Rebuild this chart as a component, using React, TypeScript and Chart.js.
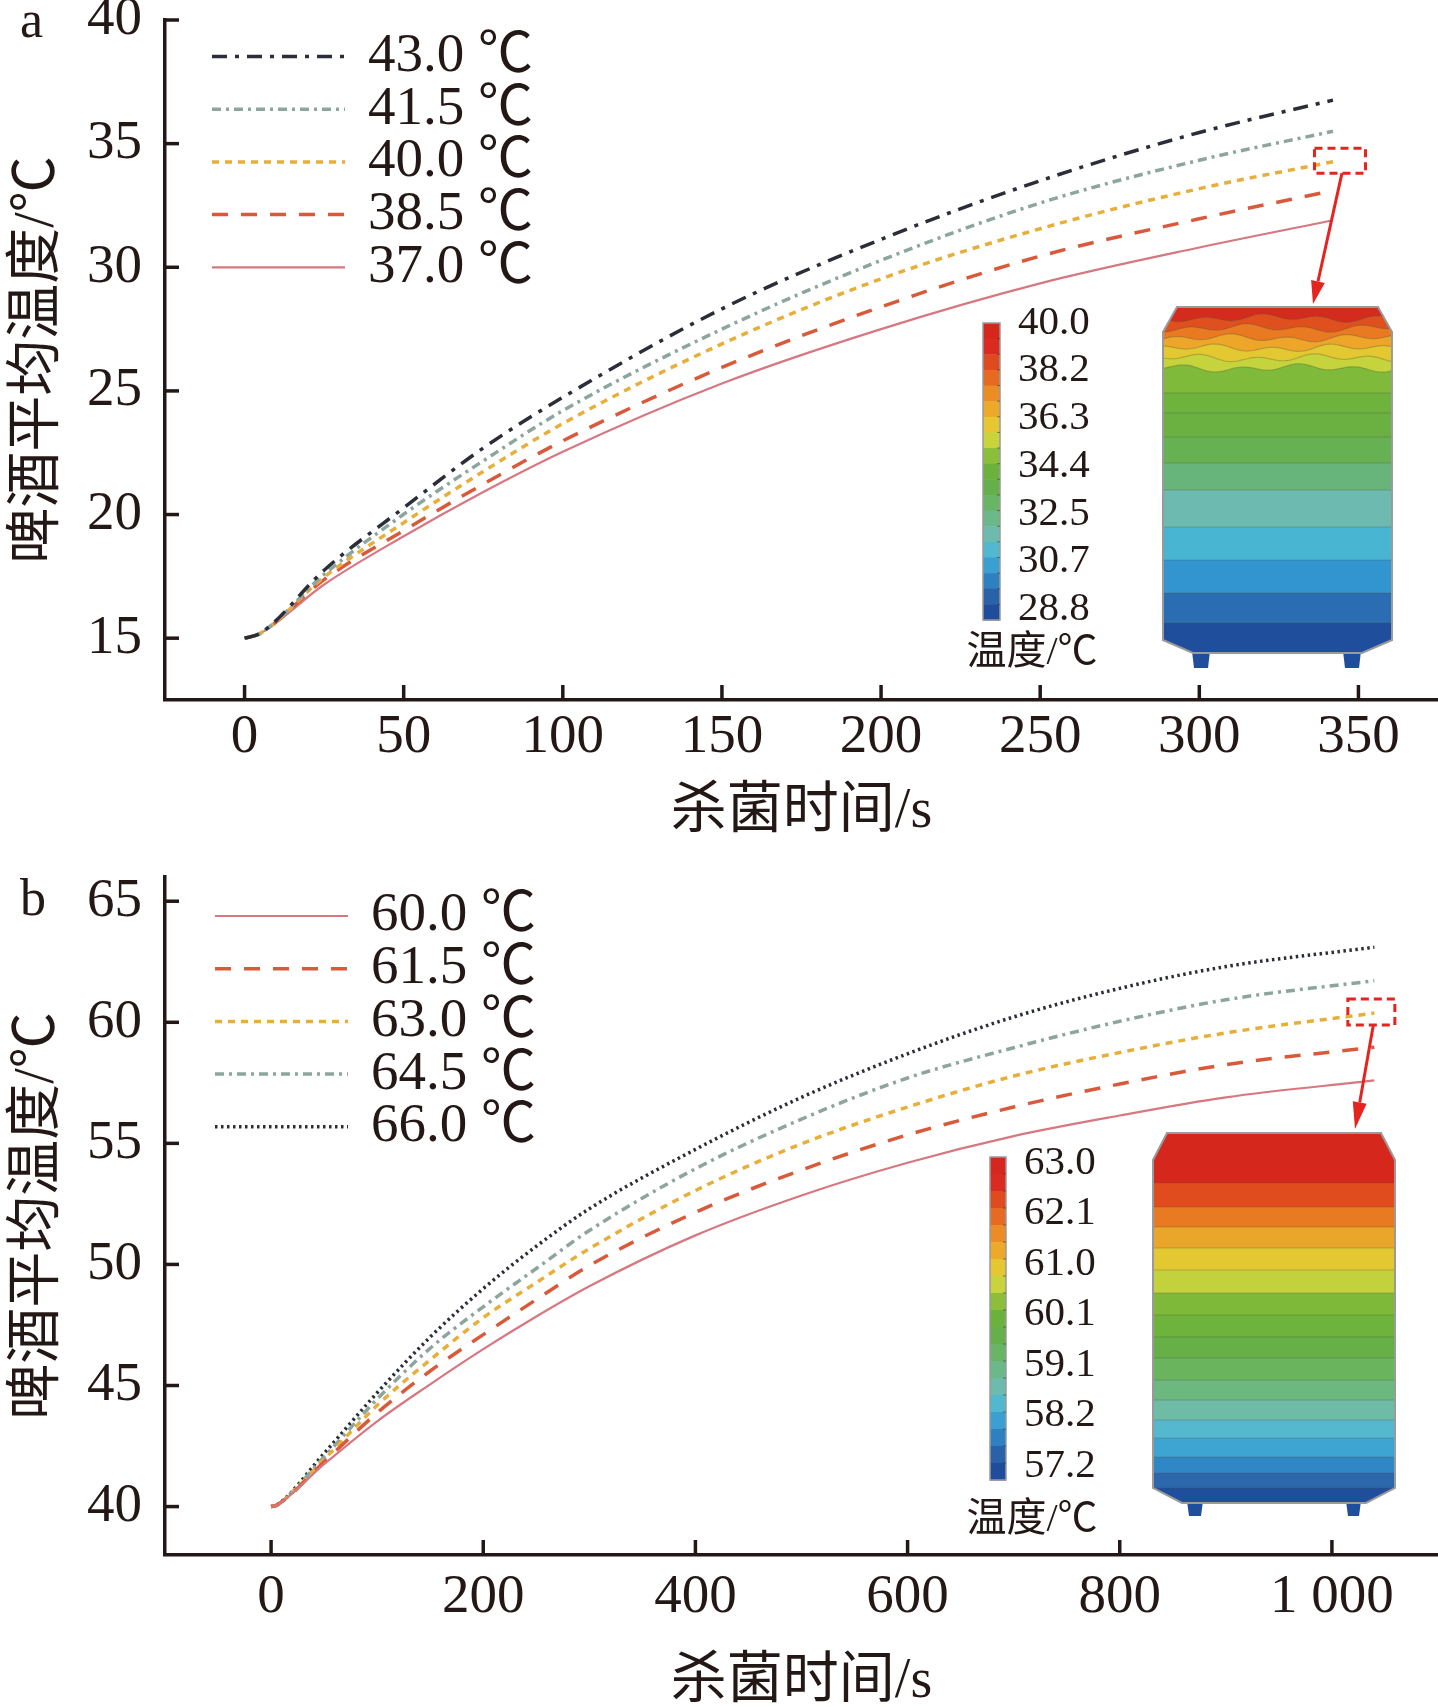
import { useEffect, useRef } from 'react';
import { Chart, registerables } from 'chart.js';

Chart.register(...registerables);

const SERIF = '"Liberation Serif", "Noto Sans CJK SC", serif';
const INK = '#231815';

// panel a: sterilisation at 37.0–43.0 ℃
const timeA = [0, 5, 25, 50, 75, 100, 150, 200, 250, 300, 342];
const a430 = [15, 15.2, 17.75, 20.27, 22.69, 24.74, 28.32, 31.13, 33.5, 35.45, 36.76];
const a415 = [15, 15.2, 17.58, 20.01, 22.17, 24.2, 27.5, 30.28, 32.6, 34.33, 35.5];
const a400 = [15, 15.2, 17.47, 19.67, 21.74, 23.68, 26.9, 29.53, 31.56, 33.18, 34.27];
const a385 = [15, 15.2, 17.37, 19.35, 21.23, 22.98, 25.95, 28.4, 30.45, 31.96, 33.1];
const a370 = [15, 15.2, 17.17, 19.12, 20.91, 22.54, 25.3, 27.5, 29.35, 30.8, 31.9];
const legendA = ['43.0 ℃', '41.5 ℃', '40.0 ℃', '38.5 ℃', '37.0 ℃'];
const xTicksA = [0, 50, 100, 150, 200, 250, 300, 350];
const xTickTextA = ['0', '50', '100', '150', '200', '250', '300', '350'];
const yTicksA = [15, 20, 25, 30, 35, 40];
const barTicksA = ['40.0', '38.2', '36.3', '34.4', '32.5', '30.7', '28.8'];

// panel b: sterilisation at 60.0–66.0 ℃
const timeB = [0, 5, 50, 100, 150, 200, 250, 300, 400, 500, 600, 700, 800, 900, 1040];
const b600 = [40, 40.05, 41.75, 43.52, 45.05, 46.5, 47.85, 49.1, 51.2, 52.85, 54.2, 55.3, 56.15, 56.9, 57.6];
const b615 = [40, 40.05, 41.85, 43.87, 45.6, 47.1, 48.55, 49.95, 52.15, 53.9, 55.35, 56.5, 57.45, 58.25, 58.97];
const b630 = [40, 40.05, 41.95, 44.18, 46.06, 47.8, 49.25, 50.65, 53.05, 54.98, 56.5, 57.78, 58.75, 59.56, 60.38];
const b645 = [40, 40.05, 42.05, 44.44, 46.54, 48.25, 49.83, 51.4, 53.95, 56.0, 57.7, 58.95, 60.04, 60.93, 61.72];
const b660 = [40, 40.05, 42.2, 44.7, 47.0, 49.0, 50.75, 52.3, 54.75, 56.9, 58.7, 60.22, 61.4, 62.3, 63.1];
const legendB = ['60.0 ℃', '61.5 ℃', '63.0 ℃', '64.5 ℃', '66.0 ℃'];
const xTicksB = [0, 200, 400, 600, 800, 1000];
const xTickTextB = ['0', '200', '400', '600', '800', '1 000'];
const yTicksB = [40, 45, 50, 55, 60, 65];
const barTicksB = ['63.0', '62.1', '61.0', '60.1', '59.1', '58.2', '57.2'];

type LineStyle = { color: string; dash: number[]; width: number };

const dashDot: LineStyle = { color: '#2b2e38', dash: [15, 8, 4, 8], width: 3.5 };
const grayDashDot: LineStyle = { color: '#8ca59f', dash: [9, 5, 3, 5], width: 3.5 };
const shortDash: LineStyle = { color: '#e8ae3a', dash: [7, 6], width: 3.5 };
const longDash: LineStyle = { color: '#d85a3b', dash: [16, 13], width: 3.5 };
const thinLine: LineStyle = { color: '#d77780', dash: [], width: 2.2 };
const dotted: LineStyle = { color: '#2b2e38', dash: [2.5, 3.5], width: 3.5 };

// contour colours used by the colour bars
const barColors = ['#d7261e', '#d92b1f', '#e04a1f', '#e66a21', '#eb8c25', '#eda92a', '#e6c631', '#c9d33b', '#8cbf39',
  '#6ab23c', '#65b04a', '#68b565', '#6bb889', '#6cbbad', '#52b8cf', '#3a9fd1', '#2f80c0', '#2a62a9', '#1f4c9b'];

interface Tank {
  left: number; right: number; top: number; cw: number; ch: number;
  bodyBottom: number; bottom: number; bw: number;
  feet: number[][]; feetBottom: number;
  bands: number[]; colors: string[]; waves: number;
}

interface PanelCfg {
  letter: string; letterY: number;
  height: number; top: number; bottom: number; left: number;
  xMin: number; xMax: number; yMin: number; yMax: number;
  xTicks: number[]; xTickText: string[]; yTicks: number[];
  xPad: number; titlePad: number;
  time: number[];
  series: { label: string; values: number[]; style: LineStyle }[];
  legendX: number; legendY: number;
  bar: { x: number; w: number; top: number; bottom: number; labels: string[]; labelY: number; step: number; unitY: number };
  tank: Tank;
  box: { series: number; dx: number; dy: number; w: number; h: number; tipX: number; tipY: number; head: number };
}

const panelA: PanelCfg = {
  letter: 'a', letterY: 37,
  height: 853, top: 20, bottom: 700, left: 165,
  xMin: -25, xMax: 375, yMin: 12.5, yMax: 40,
  xTicks: xTicksA, xTickText: xTickTextA, yTicks: yTicksA,
  xPad: 5, titlePad: 13,
  time: timeA,
  series: [
    { label: legendA[0], values: a430, style: dashDot },
    { label: legendA[1], values: a415, style: grayDashDot },
    { label: legendA[2], values: a400, style: shortDash },
    { label: legendA[3], values: a385, style: longDash },
    { label: legendA[4], values: a370, style: thinLine },
  ],
  legendX: 212, legendY: 56.5,
  bar: { x: 983, w: 17, top: 323, bottom: 620, labels: barTicksA, labelY: 323, step: 47.7, unitY: 653 },
  tank: {
    left: 1163, right: 1392, top: 307, cw: 14, ch: 25, bodyBottom: 640, bottom: 653, bw: 30,
    feet: [[1193, 1209], [1344, 1360]], feetBottom: 668,
    bands: [318, 328, 338, 348, 358, 368, 393, 413, 437, 463, 490, 527, 560, 593, 623],
    colors: ['#d52b1e', '#e0501f', '#e97a22', '#eda52a', '#e4c832', '#c5d33c', '#7fba3a', '#6db33c', '#6ab142',
      '#66b152', '#68b57c', '#6dbbb0', '#48b5d3', '#3295cf', '#2b6db2', '#1f4e9c'],
    waves: 6,
  },
  box: { series: 2, dx: 7, dy: -1, w: 51, h: 25, tipX: 1313, tipY: 304, head: 23 },
};

const panelB: PanelCfg = {
  letter: 'b', letterY: 62,
  height: 854, top: 24, bottom: 702, left: 165,
  xMin: -100, xMax: 1100, yMin: 38, yMax: 66,
  xTicks: xTicksB, xTickText: xTickTextB, yTicks: yTicksB,
  xPad: 10, titlePad: -3,
  time: timeB,
  series: [
    { label: legendB[0], values: b600, style: thinLine },
    { label: legendB[1], values: b615, style: longDash },
    { label: legendB[2], values: b630, style: shortDash },
    { label: legendB[3], values: b645, style: grayDashDot },
    { label: legendB[4], values: b660, style: dotted },
  ],
  legendX: 215, legendY: 63,
  bar: { x: 990, w: 16, top: 304, bottom: 627, labels: barTicksB, labelY: 310, step: 50.5, unitY: 667 },
  tank: {
    left: 1153, right: 1395, top: 280, cw: 14, ch: 27, bodyBottom: 635, bottom: 650, bw: 29,
    feet: [[1188, 1202], [1347, 1360]], feetBottom: 663,
    bands: [330, 354, 374, 395, 417, 440, 462, 484, 505, 527, 547, 567, 585, 604, 620, 635],
    colors: ['#d6271d', '#e14c1f', '#e87a21', '#eaa62a', '#e3c832', '#c3d13d', '#7fb93a', '#6db33c', '#67b048',
      '#6ab45e', '#6cb87e', '#6ebba6', '#55b8cf', '#3ea4d2', '#3087c6', '#2c66ad', '#1f4e9c'],
    waves: 0,
  },
  box: { series: 2, dx: -3, dy: -1, w: 47, h: 26, tipX: 1355, tipY: 276, head: 27 },
};

const waveY = (base: number, x: number, k: number, left: number) =>
  base + 2.5 * Math.sin((x - left) / 9 + k * 1.7) + 1.8 * Math.sin((x - left) / 23 + k);

function drawTank(ctx: CanvasRenderingContext2D, t: Tank) {
  ctx.save();
  // feet
  ctx.fillStyle = '#1f4e9c';
  t.feet.forEach(([x0, x1]) => {
    ctx.beginPath();
    ctx.moveTo(x0 - 1, t.bottom - 2);
    ctx.lineTo(x1 + 1, t.bottom - 2);
    ctx.lineTo(x1 - 1, t.feetBottom);
    ctx.lineTo(x0 + 1, t.feetBottom);
    ctx.closePath();
    ctx.fill();
  });
  const outline = () => {
    ctx.beginPath();
    ctx.moveTo(t.left + t.cw, t.top);
    ctx.lineTo(t.right - t.cw, t.top);
    ctx.lineTo(t.right, t.top + t.ch);
    ctx.lineTo(t.right, t.bodyBottom);
    ctx.lineTo(t.right - t.bw, t.bottom);
    ctx.lineTo(t.left + t.bw, t.bottom);
    ctx.lineTo(t.left, t.bodyBottom);
    ctx.lineTo(t.left, t.top + t.ch);
    ctx.closePath();
  };
  outline();
  ctx.save();
  ctx.clip();
  const n = t.colors.length;
  const edge = (i: number, x: number) => (i < t.waves ? waveY(t.bands[i], x, i, t.left) : t.bands[i]);
  for (let i = n - 1; i >= 0; i--) {
    ctx.fillStyle = t.colors[i];
    if (i === n - 1) {
      ctx.fillRect(t.left - 2, t.top - 2, t.right - t.left + 4, t.bottom - t.top + 4);
      continue;
    }
    ctx.beginPath();
    ctx.moveTo(t.left - 2, t.top - 2);
    ctx.lineTo(t.right + 2, t.top - 2);
    for (let x = t.right + 2; x >= t.left - 2; x -= 2) ctx.lineTo(x, edge(i, x));
    ctx.closePath();
    ctx.fill();
  }
  ctx.strokeStyle = 'rgba(80, 80, 60, 0.3)';
  ctx.lineWidth = 1.2;
  for (let i = 0; i < t.bands.length; i++) {
    ctx.beginPath();
    for (let x = t.left; x <= t.right; x += 2) {
      if (x === t.left) ctx.moveTo(x, edge(i, x));
      else ctx.lineTo(x, edge(i, x));
    }
    ctx.stroke();
  }
  ctx.restore();
  outline();
  ctx.strokeStyle = '#9a9a9a';
  ctx.lineWidth = 2;
  ctx.stroke();
  ctx.restore();
}

function makeDecor(cfg: PanelCfg) {
  return {
    id: 'decor',
    afterDraw(chart: Chart) {
      const { ctx, chartArea } = chart;
      const xs = chart.scales.x;
      const ys = chart.scales.y;
      ctx.save();

      // tick marks point inwards
      ctx.strokeStyle = INK;
      ctx.lineWidth = 3.5;
      ctx.setLineDash([]);
      cfg.xTicks.forEach((v) => {
        const px = xs.getPixelForValue(v);
        ctx.beginPath();
        ctx.moveTo(px, chartArea.bottom);
        ctx.lineTo(px, chartArea.bottom - 15);
        ctx.stroke();
      });
      cfg.yTicks.forEach((v) => {
        const py = ys.getPixelForValue(v);
        ctx.beginPath();
        ctx.moveTo(chartArea.left, py);
        ctx.lineTo(chartArea.left + 14, py);
        ctx.stroke();
      });

      // panel letter
      ctx.fillStyle = INK;
      ctx.font = `52px ${SERIF}`;
      ctx.textAlign = 'left';
      ctx.textBaseline = 'alphabetic';
      ctx.fillText(cfg.letter, 20, cfg.letterY);

      // legend
      chart.data.datasets.forEach((ds: any, i: number) => {
        const y = cfg.legendY + i * 52.7;
        ctx.save();
        ctx.strokeStyle = ds.borderColor;
        ctx.lineWidth = ds.borderWidth;
        ctx.setLineDash(ds.borderDash || []);
        ctx.beginPath();
        ctx.moveTo(cfg.legendX, y);
        ctx.lineTo(cfg.legendX + 133, y);
        ctx.stroke();
        ctx.restore();
        ctx.fillStyle = INK;
        ctx.font = `55px ${SERIF}`;
        ctx.textBaseline = 'middle';
        ctx.fillText(ds.label, cfg.legendX + 156, y);
      });

      // colour bar
      const bar = cfg.bar;
      const bh = (bar.bottom - bar.top) / barColors.length;
      barColors.forEach((c, i) => {
        ctx.fillStyle = c;
        ctx.fillRect(bar.x, bar.top + i * bh, bar.w, bh + 0.5);
      });
      ctx.strokeStyle = '#9a9a9a';
      ctx.lineWidth = 1.5;
      ctx.strokeRect(bar.x, bar.top, bar.w, bar.bottom - bar.top);
      ctx.strokeStyle = 'rgba(60,60,60,0.6)';
      ctx.lineWidth = 1;
      for (let i = 1; i < barColors.length; i++) {
        ctx.beginPath();
        ctx.moveTo(bar.x + bar.w - 3, bar.top + i * bh);
        ctx.lineTo(bar.x + bar.w, bar.top + i * bh);
        ctx.stroke();
      }
      ctx.fillStyle = INK;
      ctx.font = `41px ${SERIF}`;
      ctx.textAlign = 'left';
      ctx.textBaseline = 'middle';
      bar.labels.forEach((s, i) => ctx.fillText(s, bar.x + bar.w + 18, bar.labelY + i * bar.step));
      ctx.font = `40px ${SERIF}`;
      ctx.textAlign = 'center';
      ctx.fillText('温度/℃', 1032, bar.unitY);

      // bottle contour picture
      drawTank(ctx, cfg.tank);

      // red dashed box at the end of the 40.0 / 63.0 ℃ curve, arrow to the picture
      const b = cfg.box;
      const vals = cfg.series[b.series].values;
      const cx = xs.getPixelForValue(cfg.time[cfg.time.length - 1]) + b.dx;
      const cy = ys.getPixelForValue(vals[vals.length - 1]) + b.dy;
      ctx.strokeStyle = '#e5231f';
      ctx.fillStyle = '#e5231f';
      ctx.lineWidth = 3;
      ctx.setLineDash([8, 5]);
      ctx.strokeRect(cx - b.w / 2, cy - b.h / 2, b.w, b.h);
      ctx.setLineDash([]);
      const sx = cx + 2;
      const sy = cy + b.h / 2;
      const ang = Math.atan2(b.tipY - sy, b.tipX - sx);
      const hx = b.tipX - b.head * Math.cos(ang);
      const hy = b.tipY - b.head * Math.sin(ang);
      ctx.beginPath();
      ctx.moveTo(sx, sy);
      ctx.lineTo(hx, hy);
      ctx.stroke();
      const px = -Math.sin(ang) * 7;
      const py = Math.cos(ang) * 7;
      ctx.beginPath();
      ctx.moveTo(b.tipX, b.tipY);
      ctx.lineTo(hx + px, hy + py);
      ctx.lineTo(hx - px, hy - py);
      ctx.closePath();
      ctx.fill();

      ctx.restore();
    },
  };
}

function Panel({ cfg }: { cfg: PanelCfg }) {
  const canvasRef = useRef<HTMLCanvasElement | null>(null);

  useEffect(() => {
    if (!canvasRef.current) return;
    const tickFont = { family: SERIF, size: 55 };
    const chart = new Chart(canvasRef.current, {
      type: 'line',
      data: {
        datasets: cfg.series.map((s) => ({
          label: s.label,
          data: cfg.time.map((t, i) => ({ x: t, y: s.values[i] })),
          borderColor: s.style.color,
          borderWidth: s.style.width,
          borderDash: s.style.dash,
          borderCapStyle: 'butt' as const,
          pointRadius: 0,
          fill: false,
          cubicInterpolationMode: 'monotone' as const,
        })),
      },
      options: {
        responsive: false,
        animation: false,
        events: [],
        layout: { padding: { top: cfg.top, left: 0, right: 0, bottom: 0 } },
        plugins: { legend: { display: false }, tooltip: { enabled: false } },
        scales: {
          x: {
            type: 'linear',
            min: cfg.xMin,
            max: cfg.xMax,
            afterBuildTicks: (s: any) => { s.ticks = cfg.xTicks.map((v) => ({ value: v })); },
            afterFit: (s: any) => { s.height = cfg.height - cfg.bottom; s.paddingLeft = 0; s.paddingRight = 0; },
            grid: { display: true, drawOnChartArea: false, drawTicks: false },
            border: { display: true, color: INK, width: 3.5 },
            ticks: {
              color: INK, font: tickFont, padding: cfg.xPad, autoSkip: false, maxRotation: 0, minRotation: 0,
              callback: (_v: any, i: number) => cfg.xTickText[i],
            },
            title: {
              display: true, text: '杀菌时间/s', color: INK,
              font: { family: SERIF, size: 56, lineHeight: 1 },
              padding: { top: 0, bottom: cfg.titlePad },
            },
          },
          y: {
            type: 'linear',
            min: cfg.yMin,
            max: cfg.yMax,
            afterBuildTicks: (s: any) => { s.ticks = cfg.yTicks.map((v) => ({ value: v })); },
            afterFit: (s: any) => { s.width = cfg.left; s.paddingTop = 0; s.paddingBottom = 0; },
            grid: { display: true, drawOnChartArea: false, drawTicks: false },
            border: { display: true, color: INK, width: 3.5 },
            ticks: { color: INK, font: tickFont, padding: 23, autoSkip: false, callback: (v: any) => String(v) },
            title: {
              display: true, text: '啤酒平均温度/℃', color: INK,
              font: { family: SERIF, size: 56, lineHeight: 1 },
              padding: { top: 10, bottom: 0 },
            },
          },
        },
      },
      plugins: [makeDecor(cfg)],
    } as any);
    return () => chart.destroy();
  }, [cfg]);

  return (
    <canvas
      ref={canvasRef}
      width={1438}
      height={cfg.height}
      style={{ display: 'block', width: 1438, height: cfg.height }}
    />
  );
}

export default function App() {
  return (
    <div style={{ position: 'absolute', left: 0, top: 0, width: 1438, height: 1707, background: '#fff', overflow: 'hidden' }}>
      <Panel cfg={panelA} />
      <Panel cfg={panelB} />
    </div>
  );
}
